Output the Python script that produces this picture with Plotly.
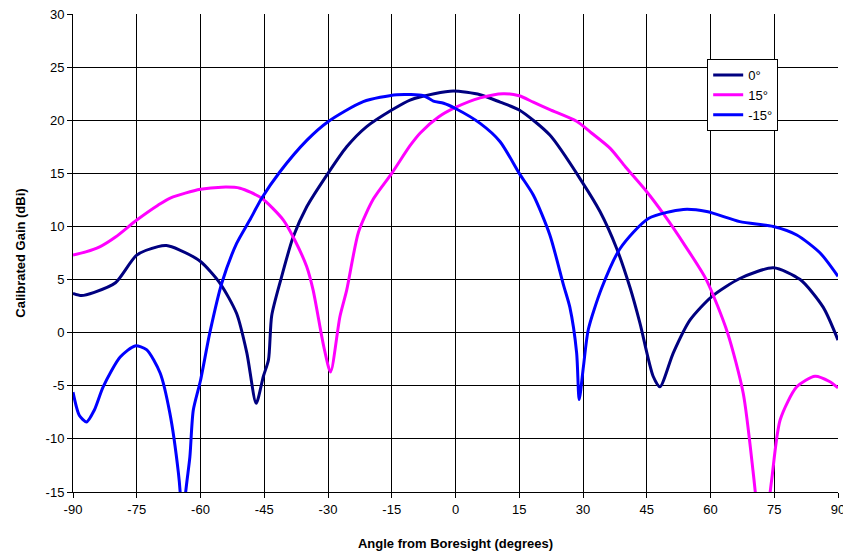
import plotly.graph_objects as go

# 0 deg series
ang0 = [-90, -88, -85, -80, -75, -70, -68, -65, -60, -55.4, -51.5, -49.1, -46.9, -45.2, -44, -43.25, -41.1, -38.2,
        -35, -30, -25.6, -20.9, -15, -10.7, -5, -0.5, 5.8, 10.5, 15, 22.2, 30, 34, 37.9, 41.1, 43.4, 46.5, 48.1,
        51.25, 55.2, 60.3, 66.9, 74.8, 81.1, 86.5, 90]
g0 = [3.7, 3.5, 3.8, 4.7, 7.3, 8.1, 8.2, 7.8, 6.7, 4.65, 1.8, -1.9, -6.65, -4.1, -2.55, 1.6, 5.0, 9.0,
      11.85, 15.0, 17.5, 19.4, 20.96, 21.9, 22.5, 22.75, 22.4, 21.7, 20.96, 18.6, 14.06, 11.4, 7.95, 4.2, 0.9, -4.1, -5.1,
      -1.9, 1.2, 3.4, 5.1, 6.1, 5.0, 2.4, -0.7]

# 15 deg series
ang15 = [-90, -87, -83.6, -80, -75, -70, -67, -60, -55, -50.7, -45.6, -40.5, -37.8, -35, -33.5, -31, -29.4,
         -27.2, -25.6, -22.8, -19.3, -15, -10.7, -8.3, -4, 0, 5.8, 11.2, 15, 18.3, 22.2, 28.5, 32, 36.4, 40, 45,
         48.9, 54, 59, 64, 67.7, 70, 71, 72.2, 73.5, 74.5, 76.4, 80.3, 84.6, 88, 90]
g15 = [7.3, 7.6, 8.1, 9.0, 10.6, 12.0, 12.7, 13.5, 13.7, 13.6, 12.65, 10.6, 8.7, 6.2, 4.0, -1.3, -3.7,
       1.5, 4.0, 9.5, 12.6, 15.0, 17.6, 18.8, 20.3, 21.2, 22.1, 22.5, 22.3, 21.7, 21.0, 19.9, 18.8, 17.35, 15.6, 13.27,
       11.2, 8.2, 5.0, 0.0, -5.7, -13.0, -17.0, -24.0, -17.0, -13.5, -8.2, -5.1, -4.1, -4.6, -5.2]

# -15 deg series
angm15 = [-90, -88.5, -86.8, -85, -82.9, -78.9, -75.4, -72.7, -69.5, -67.2, -65.2, -64.7, -64.1, -63.6, -62.5,
          -61.7, -60, -57.8, -55, -51.5, -48.4, -45.6, -41.3, -35, -30, -21.7, -13.8, -7.5, -5.2, -2.8, 0, 5.8,
          10.5, 15, 18.3, 22.2, 25.4, 26.9, 28.5, 29.1, 30.1, 31.25, 34.4, 38.7, 45.4, 53.6, 59.1, 66.9, 74.8,
          80.3, 85.8, 90]
gm15 = [-5.6, -7.8, -8.4, -7.3, -5.1, -2.3, -1.25, -1.6, -3.8, -7.6, -13.2, -15.5, -22.0, -15.5, -11.7,
        -7.3, -4.5, 0.0, 4.65, 8.4, 10.6, 12.65, 15.15, 18.1, 19.86, 21.75, 22.4, 22.3, 21.8, 21.6, 21.1, 19.7,
        17.98, 15.0, 12.96, 9.2, 4.5, 2.4, -1.9, -6.3, -3.2, 0.3, 4.2, 7.9, 10.75, 11.6, 11.4, 10.45, 10.0,
        9.2, 7.5, 5.3]

series_names = ["0°", "15°", "-15°"]
colors = ["#000080", "#FF00FF", "#0000FF"]
x_ticks = list(range(-90, 91, 15))
y_ticks = list(range(-15, 31, 5))

fig = go.Figure()
for name, xs, ys, c in zip(series_names, [ang0, ang15, angm15], [g0, g15, gm15], colors):
    fig.add_trace(go.Scatter(x=xs, y=ys, mode="lines", name=name,
                             line=dict(color=c, width=3, shape="spline", smoothing=0.7)))

font = "Liberation Sans, Arial, sans-serif"
fig.update_layout(
    width=843, height=546,
    margin=dict(l=65, r=13, t=6, b=62),
    paper_bgcolor="white", plot_bgcolor="white",
    font=dict(family=font, size=13, color="black"),
    showlegend=True,
    legend=dict(x=0.829, y=0.906, xanchor="left", yanchor="top",
                bgcolor="white", bordercolor="black", borderwidth=1,
                font=dict(family=font, size=13, color="black"),
                itemwidth=30, tracegroupgap=0),
    xaxis=dict(range=[-90, 90], tickvals=x_ticks, ticktext=[str(v) for v in x_ticks],
               showgrid=True, gridcolor="black", gridwidth=1, automargin=False,
               showline=True, linecolor="black", linewidth=1, ticklabeloverflow="allow",
               ticks="outside", ticklen=5, tickcolor="black", zeroline=False,
               tickfont=dict(size=13),
               title=dict(text="<b>Angle from Boresight (degrees)</b>", font=dict(size=13), standoff=23)),
    yaxis=dict(range=[-15, 30], tickvals=y_ticks, ticktext=[str(v) for v in y_ticks],
               showgrid=True, gridcolor="black", gridwidth=1, automargin=False,
               showline=True, linecolor="black", linewidth=1, ticklabeloverflow="allow",
               ticks="outside", ticklen=5, tickcolor="black", zeroline=False,
               tickfont=dict(size=13),
               title=dict(text="<b>Calibrated Gain (dBi)</b>", font=dict(size=13), standoff=17)),
)

fig.write_html("out.html")
